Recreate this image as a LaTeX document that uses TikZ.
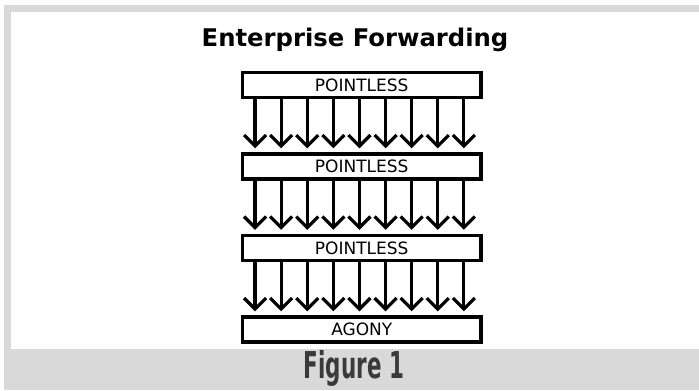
\documentclass[tikz,border=0pt]{standalone}
\usepackage{fontspec}
\usepackage{graphicx}
\setmainfont{DejaVu Sans}
\usetikzlibrary{arrows.meta,calc}
\definecolor{framegray}{HTML}{D9D9D9}
\definecolor{captext}{HTML}{3A3A3A}
\tikzset{
  layerbox/.style={draw=black, line width=3.4pt, fill=white, minimum width=238.5pt,
    minimum height=25pt, inner sep=0pt, font=\fontsize{17}{17}\selectfont},
  flow/.style={draw=black, line width=3.2pt,
    -{Straight Barb[length=11pt, width=22pt, line width=3.2pt]}, shorten >=4pt}
}
\begin{document}
\begin{tikzpicture}[x=1pt, y=-1pt]
  % canvas and grey frame
  \useasboundingbox (0,0) rectangle (699,391);
  \fill[white] (0,0) rectangle (699,391);
  \fill[framegray] (4,5) rectangle (699,12);
  \fill[framegray] (4,5) rectangle (11,390);
  \fill[framegray] (4,349) rectangle (699,390);

  % title
  \node[anchor=base, font=\bfseries\fontsize{24.3}{24.3}\selectfont] (title) at (355,46) {Enterprise Forwarding};

  % layers
  \node[layerbox] (l1) at (361.75,85)    {POINTLESS};
  \node[layerbox] (l2) at (361.75,166.5) {POINTLESS};
  \node[layerbox] (l3) at (361.75,248)   {POINTLESS};
  \node[layerbox] (l4) at (361.75,329.5) {AGONY};

  % nine arrows between each pair of layers
  \foreach \upper/\lower in {l1/l2, l2/l3, l3/l4} {
    \foreach \i in {0,...,8} {
      \draw[flow] ($(\upper.south west)+(14.25+26.1*\i,0)$) -- ($(\lower.north west)+(14.25+26.1*\i,0)$);
    }
  }

  % caption
  \node[text=captext, inner sep=0pt] (cap) at (354,368.5)
    {\scalebox{0.58}[1]{\bfseries\fontsize{37}{37}\selectfont Figure 1}};
\end{tikzpicture}
\end{document}
